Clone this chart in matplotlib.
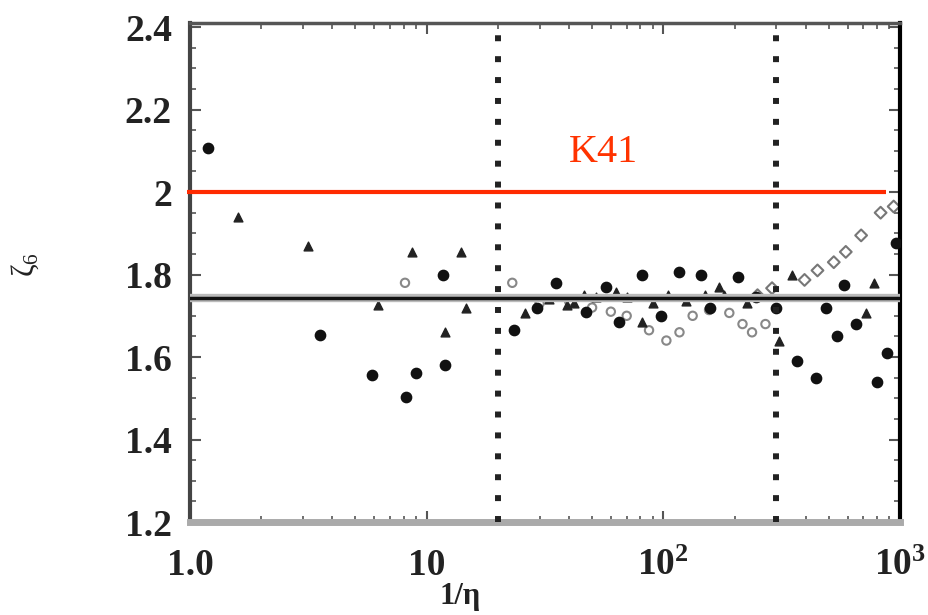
import matplotlib
matplotlib.use("Agg")
import matplotlib.pyplot as plt
from matplotlib.ticker import FixedLocator, LogLocator, NullFormatter

plt.rcParams["font.family"] = ["Liberation Serif", "DejaVu Serif"]
plt.rcParams["mathtext.fontset"] = "custom"
plt.rcParams["mathtext.rm"] = "Liberation Serif:bold"
plt.rcParams["mathtext.it"] = "Liberation Serif:italic"
plt.rcParams["mathtext.default"] = "regular"

# values
dots_x = [1.19, 3.54, 5.86, 8.2, 8.99, 11.7, 11.9, 23.5, 29.3, 35.3, 47.2, 57.4, 65, 81.5,
          98, 116, 144, 157, 206, 246, 300, 367, 440, 486, 542, 581, 651, 800, 877, 960]
dots_y = [2.107, 1.653, 1.556, 1.503, 1.561, 1.80, 1.58, 1.665, 1.72, 1.78, 1.71, 1.77, 1.685, 1.80,
          1.70, 1.806, 1.80, 1.72, 1.794, 1.745, 1.72, 1.59, 1.55, 1.72, 1.65, 1.775, 1.68, 1.54, 1.61, 1.876]

tri_x = [1.59, 3.14, 8.7, 13.9, 11.9, 14.7, 6.2, 39, 46, 63, 81, 172, 307, 350, 715, 778,
         33, 42, 52, 70, 90, 105, 125, 150, 180, 225, 26]
tri_y = [1.94, 1.87, 1.855, 1.855, 1.66, 1.72, 1.726, 1.726, 1.75, 1.757, 1.685, 1.77, 1.64, 1.80, 1.707, 1.78,
         1.74, 1.73, 1.745, 1.745, 1.73, 1.75, 1.735, 1.75, 1.75, 1.73, 1.707]

dip_x = [8.1, 23, 30, 40, 50, 60, 70, 87, 103, 117, 133, 156, 190, 216, 237, 270]
dip_y = [1.78, 1.78, 1.73, 1.735, 1.72, 1.71, 1.70, 1.665, 1.64, 1.66, 1.70, 1.714, 1.707, 1.68, 1.66, 1.68]

rise_x = [250, 288, 395, 448, 525, 590, 685, 828, 940]
rise_y = [1.75, 1.767, 1.787, 1.81, 1.83, 1.855, 1.895, 1.95, 1.965]

fit_value = 1.743
k41_value = 2.0
range_lo, range_hi = 20, 300

yticks = [1.2, 1.4, 1.6, 1.8, 2.0, 2.2, 2.4]
ytick_labels = ["1.2", "1.4", "1.6", "1.8", "2", "2.2", "2.4"]
xticks = [1, 10, 100, 1000]
xtick_labels = ["1.0", "10", "10$^{2}$", "10$^{3}$"]

fig = plt.figure(figsize=(9.29, 6.15), dpi=100)
ax = fig.add_axes([0.2045, 0.1512, 0.7643, 0.8114])

ax.set_xscale("log")
ax.set_xlim(1, 1000)
ax.set_ylim(1.2, 2.41)

# scattered data
ax.scatter(dip_x, dip_y, s=36, facecolors="none", edgecolors="#888888", linewidths=1.5, zorder=2)
ax.scatter(rise_x, rise_y, s=36, marker="D", facecolors="none", edgecolors="#777777", linewidths=1.5, zorder=2)
ax.scatter(tri_x, tri_y, s=40, marker="^", color="#222222", zorder=3)
ax.scatter(dots_x, dots_y, s=55, color="#111111", zorder=3)

# fitted value line
ax.axhline(fit_value, color="#bbbbbb", lw=6, zorder=4)
ax.axhline(fit_value, color="#111111", lw=2.5, zorder=5)

# inertial range limits
for xv in (range_lo, range_hi):
    ax.axvline(xv, color="#222222", lw=4.3, linestyle=(0, (1, 2.5)), dash_capstyle="butt", zorder=5)

# K41 prediction
ax.hlines(k41_value, 0.97, 870, color="#ff2a00", lw=3, zorder=6, clip_on=False)
ax.text(56, 2.097, "K41", color="#ff3300", fontsize=29, ha="center", va="center", zorder=6)

# axes styling
ax.yaxis.set_major_locator(FixedLocator(yticks))
ax.set_yticklabels(ytick_labels)
ax.yaxis.set_minor_locator(FixedLocator([v / 100 for v in range(120, 242, 5)]))
ax.xaxis.set_major_locator(FixedLocator(xticks))
ax.set_xticklabels(xtick_labels)
ax.xaxis.set_minor_locator(LogLocator(base=10, subs=range(2, 10)))
ax.xaxis.set_minor_formatter(NullFormatter())

ax.tick_params(which="both", direction="in", top=True, right=True, color="#555555")
ax.tick_params(which="major", length=8, width=1.5, labelsize=27)
ax.tick_params(axis="y", which="major", pad=13)
ax.tick_params(axis="x", which="major", pad=19)
ax.tick_params(which="minor", length=4, width=1.2)
for lab in ax.get_xticklabels() + ax.get_yticklabels():
    lab.set_fontweight("bold")
    lab.set_color("#222222")

ax.spines["left"].set_linewidth(3)
ax.spines["left"].set_color("#444444")
ax.spines["bottom"].set_linewidth(5)
ax.spines["bottom"].set_color("#aaaaaa")
ax.spines["top"].set_linewidth(2.5)
ax.spines["top"].set_color("#555555")
ax.spines["right"].set_linewidth(3)
ax.spines["right"].set_color("black")

ax.set_xlabel("1/η", fontsize=22, fontweight="bold", color="#222222")
ax.xaxis.set_label_coords(0.38, -0.12)
ax.set_ylabel(r"$\zeta_6$", fontsize=22, color="#222222")
ax.yaxis.set_label_coords(-0.21, 0.515)

fig.savefig("out.png", dpi=100)
